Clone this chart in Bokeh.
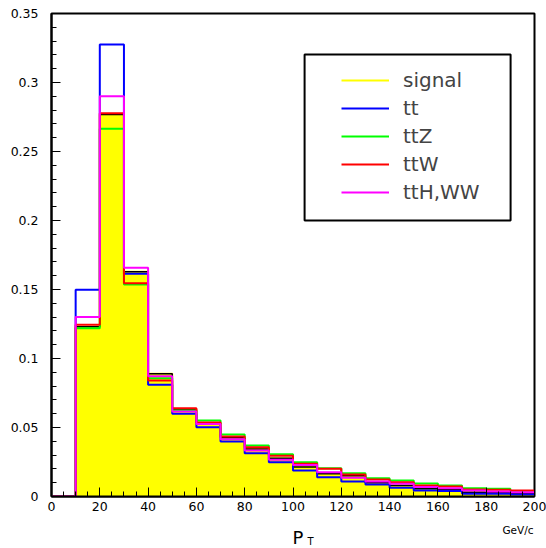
from bokeh.plotting import figure
from bokeh.models import (Range1d, FixedTicker, Legend, LegendItem, BoxAnnotation)
from bokeh.layouts import column
from bokeh.core.properties import value
from bokeh.embed import file_html
from bokeh.resources import INLINE

# ---- data ----
bin_edges = [0, 10, 20, 30, 40, 50, 60, 70, 80, 90, 100, 110, 120, 130, 140, 150, 160, 170, 180, 190, 200]
signal = [0, 0.1230, 0.2768, 0.1628, 0.0889, 0.0633, 0.0530, 0.0425, 0.0345, 0.0278,
          0.0213, 0.0164, 0.0150, 0.0099, 0.0080, 0.0056, 0.0049, 0.0031, 0.0027, 0.0024]
tt = [0, 0.1498, 0.3275, 0.1614, 0.0810, 0.0600, 0.0502, 0.0399, 0.0314, 0.0249,
      0.0188, 0.0140, 0.0109, 0.0087, 0.0063, 0.0043, 0.0039, 0.0020, 0.0020, 0.0014]
ttZ = [0, 0.1220, 0.2664, 0.1536, 0.0857, 0.0623, 0.0551, 0.0449, 0.0370, 0.0307,
       0.0249, 0.0205, 0.0169, 0.0133, 0.0116, 0.0095, 0.0080, 0.0060, 0.0056, 0.0040]
ttW = [0, 0.1244, 0.2778, 0.1546, 0.0840, 0.0640, 0.0536, 0.0435, 0.0357, 0.0295,
       0.0237, 0.0201, 0.0159, 0.0123, 0.0104, 0.0080, 0.0072, 0.0051, 0.0049, 0.0043]
ttH_WW = [0, 0.1300, 0.2900, 0.1657, 0.0872, 0.0616, 0.0525, 0.0415, 0.0333, 0.0266,
          0.0228, 0.0176, 0.0135, 0.0109, 0.0092, 0.0068, 0.0060, 0.0043, 0.0036, 0.0031]
series_names = ["signal", "tt", "ttZ", "ttW", "ttH,WW"]
series_colors = ["#ffff00", "#0000ff", "#00ff00", "#ff0000", "#ff00ff"]

x_ticks = [0, 20, 40, 60, 80, 100, 120, 140, 160, 180, 200]
x_minor = [5, 10, 15, 25, 30, 35, 45, 50, 55, 65, 70, 75, 85, 90, 95, 105, 110, 115,
           125, 130, 135, 145, 150, 155, 165, 170, 175, 185, 190, 195]
y_ticks = [0, 0.05, 0.1, 0.15, 0.2, 0.25, 0.3, 0.35]
y_tick_labels = ["0", "0.05", "0.1", "0.15", "0.2", "0.25", "0.3", "0.35"]
y_minor = [0.01, 0.02, 0.03, 0.04, 0.06, 0.07, 0.08, 0.09, 0.11, 0.12, 0.13, 0.14,
           0.16, 0.17, 0.18, 0.19, 0.21, 0.22, 0.23, 0.24, 0.26, 0.27, 0.28, 0.29,
           0.31, 0.32, 0.33, 0.34]
x_title = "P"
x_title_sub = "T"
x_unit = "GeV/c"

FONT = "DejaVu Sans"

p = figure(width=546, height=518, output_backend="svg", toolbar_location=None,
           x_range=Range1d(0, 200), y_range=Range1d(0, 0.35),
           min_border_left=51, min_border_right=12, min_border_top=13, min_border_bottom=22)
p.title.visible = False
p.grid.visible = False
p.background_fill_color = "white"
p.border_fill_color = "white"
p.outline_line_color = "black"
p.outline_line_width = 2

# axes
p.xaxis.ticker = FixedTicker(ticks=x_ticks, minor_ticks=x_minor)
p.yaxis.ticker = FixedTicker(ticks=y_ticks, minor_ticks=y_minor)
p.yaxis.major_label_overrides = {t: l for t, l in zip(y_ticks, y_tick_labels)}
for ax in (p.xaxis[0], p.yaxis[0]):
    ax.major_tick_in = 9
    ax.major_tick_out = 0
    ax.minor_tick_in = 5
    ax.minor_tick_out = 0
    ax.axis_line_color = "black"
    ax.axis_line_width = 2
    ax.major_tick_line_width = 1
    ax.minor_tick_line_width = 1
    ax.major_label_text_font = FONT
    ax.major_label_text_font_size = "12.5px"
    ax.major_label_text_color = "black"
p.xaxis.major_label_standoff = 5
p.yaxis.major_label_standoff = 13

def step_vals(v):
    return list(v) + [v[-1]]

# signal fill (one continuous area, no seams)
p.varea_step(x=bin_edges, y1=[0] * len(bin_edges), y2=step_vals(signal),
             step_mode="after", fill_color="#ffff00")

renderers = []
sig_line = p.step(bin_edges, step_vals(signal), mode="after", line_color=series_colors[0], line_width=2)
renderers.append(sig_line)
p.step(bin_edges, step_vals(signal), mode="after", line_color="black", line_width=1.5)
for vals, col in zip([tt, ttZ, ttW, ttH_WW], series_colors[1:]):
    r = p.step(bin_edges, step_vals(vals), mode="after", line_color=col, line_width=2)
    renderers.append(r)

# legend box
box = BoxAnnotation(left=104.8, right=190.1, bottom=0.2, top=0.3203,
                    fill_color="white", fill_alpha=1.0, line_color="black",
                    line_alpha=1.0, line_width=2)
p.add_layout(box)

legend = Legend(items=[LegendItem(label=n, renderers=[r]) for n, r in zip(series_names, renderers)],
                location=(290, 292), margin=0, padding=0, spacing=4,
                glyph_width=48, glyph_height=20, label_height=20, label_standoff=14,
                label_text_font=FONT, label_text_font_size="20px",
                border_line_alpha=0, background_fill_alpha=0)
p.add_layout(legend, "center")

# strip below for the axis title (y measured in page pixels, top-down)
p2 = figure(width=546, height=30, output_backend="svg", toolbar_location=None,
            x_range=p.x_range, y_range=Range1d(548, 518),
            x_axis_location=None, y_axis_location=None,
            min_border_left=51, min_border_right=12, min_border_top=0, min_border_bottom=0)
p2.title.visible = False
p2.grid.visible = False
p2.outline_line_color = None
p2.border_fill_color = "white"
p2.background_fill_color = "white"
p2.text(x=[99.8], y=[537], text=[x_title], text_font=value(FONT), text_font_size="18px",
        text_baseline="alphabetic", text_align="left", text_color="black")
p2.text(x=[106], y=[541], text=[x_title_sub], text_font=value(FONT), text_font_size="10px",
        text_baseline="alphabetic", text_align="left", text_color="black")
p2.text(x=[199.6], y=[529], text=[x_unit], text_font=value(FONT), text_font_size="10.5px",
        text_baseline="alphabetic", text_align="right", text_color="black")

layout = column(p, p2, spacing=0)
open("out.html", "w").write(file_html(layout, INLINE))
